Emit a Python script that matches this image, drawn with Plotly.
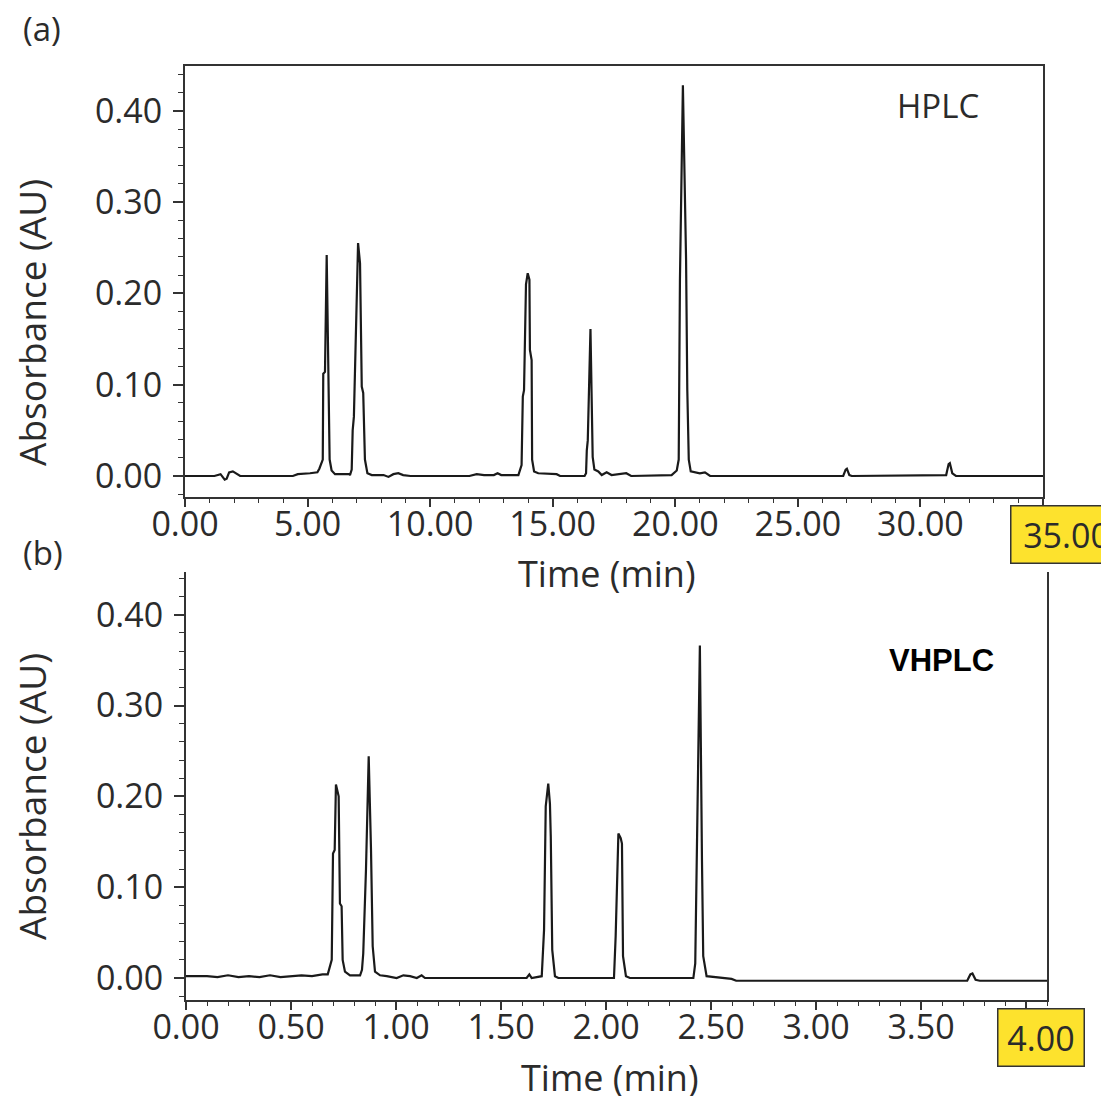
import plotly.graph_objects as go

# ---------------- data ----------------
# Panel (a) HPLC chromatogram: time (min) and absorbance (AU)
hplc_time = [0.00, 1.20, 1.45, 1.62, 1.70, 1.80, 1.95, 2.10, 2.25, 4.40, 4.60, 5.10, 5.40,
             5.48, 5.62, 5.64, 5.71, 5.78, 5.90, 5.98, 6.12, 6.70,
             6.73, 6.80, 6.84, 6.89, 6.98, 7.06, 7.14, 7.21, 7.27, 7.34, 7.44, 7.62,
             8.10, 8.30, 8.50, 8.70, 8.90, 9.20, 11.60, 11.90, 12.20, 12.60, 12.75, 12.90,
             13.60, 13.69, 13.73, 13.78, 13.83, 13.91, 13.98, 14.05, 14.07, 14.14, 14.16, 14.24,
             14.41, 15.16, 15.30,
             16.30, 16.36, 16.39, 16.43, 16.54, 16.63, 16.70, 16.86, 17.00, 17.20, 17.40,
             18.00, 18.20,
             19.85, 20.06, 20.14, 20.19, 20.31, 20.44, 20.49, 20.55, 20.63, 21.00, 21.21,
             21.42,
             26.85, 26.95, 27.00, 27.10, 27.20,
             31.05, 31.15, 31.20, 31.30, 31.45, 35.00]
hplc_abs = [0.000, 0.000, 0.002, -0.004, -0.003, 0.004, 0.005, 0.002, 0.000, 0.000, 0.002, 0.003, 0.004,
            0.008, 0.018, 0.112, 0.114, 0.242, 0.018, 0.006, 0.002, 0.002,
            0.001, 0.007, 0.050, 0.065, 0.178, 0.255, 0.233, 0.098, 0.091, 0.018, 0.003, 0.001,
            0.001, -0.001, 0.002, 0.003, 0.001, 0.000, 0.000, 0.002, 0.001, 0.001, 0.003, 0.001,
            0.001, 0.008, 0.012, 0.087, 0.094, 0.210, 0.222, 0.215, 0.138, 0.127, 0.018, 0.005,
            0.003, 0.002, 0.000,
            0.000, 0.003, 0.028, 0.039, 0.161, 0.021, 0.007, 0.005, 0.001, 0.004, 0.001,
            0.003, 0.000,
            0.001, 0.006, 0.018, 0.215, 0.428, 0.237, 0.094, 0.018, 0.005, 0.003, 0.004,
            0.000,
            0.000, 0.007, 0.008, 0.001, 0.000,
            0.001, 0.013, 0.014, 0.003, 0.000, 0.000]

# Panel (b) VHPLC chromatogram
vhplc_time = [0.00, 0.10, 0.15, 0.20, 0.25, 0.30, 0.35, 0.40, 0.45, 0.50, 0.55, 0.60, 0.65, 0.675,
              0.694, 0.700, 0.708, 0.714, 0.721, 0.727, 0.733, 0.741, 0.746, 0.757, 0.781, 0.829,
              0.838, 0.844, 0.857, 0.870, 0.881, 0.889, 0.900, 0.924,
              0.956, 1.003, 1.035, 1.067, 1.099, 1.122, 1.138,
              1.622, 1.635, 1.646,
              1.694, 1.705, 1.713, 1.725, 1.733, 1.737, 1.744, 1.757, 1.773,
              2.038, 2.046, 2.054, 2.059, 2.070, 2.076, 2.081, 2.095, 2.114,
              2.416, 2.425, 2.432, 2.447, 2.457, 2.463, 2.479, 2.543, 2.598, 2.620,
              3.720, 3.735, 3.745, 3.760, 3.780, 4.100]
vhplc_abs = [0.002, 0.002, 0.001, 0.003, 0.001, 0.002, 0.001, 0.003, 0.001, 0.002, 0.003, 0.002, 0.004, 0.004,
             0.020, 0.137, 0.141, 0.213, 0.207, 0.200, 0.082, 0.079, 0.020, 0.007, 0.003, 0.003,
             0.009, 0.027, 0.119, 0.244, 0.141, 0.035, 0.007, 0.003,
             0.002, 0.000, 0.003, 0.002, 0.000, 0.003, 0.000,
             0.000, 0.004, 0.000,
             0.002, 0.053, 0.189, 0.214, 0.192, 0.156, 0.031, 0.002, 0.000,
             0.000, 0.046, 0.126, 0.159, 0.154, 0.148, 0.024, 0.002, 0.000,
             0.000, 0.016, 0.126, 0.366, 0.130, 0.024, 0.002, 0.000, -0.001, -0.003,
             -0.003, 0.004, 0.005, -0.002, -0.003, -0.003]

y_tick_vals = [0.0, 0.1, 0.2, 0.3, 0.4]
y_tick_text = ["0.00", "0.10", "0.20", "0.30", "0.40"]
a_tick_vals = [0, 5, 10, 15, 20, 25, 30, 35]
a_tick_text = ["0.00", "5.00", "10.00", "15.00", "20.00", "25.00", "30.00", ""]
b_tick_vals = [0, 0.5, 1.0, 1.5, 2.0, 2.5, 3.0, 3.5, 4.0]
b_tick_text = ["0.00", "0.50", "1.00", "1.50", "2.00", "2.50", "3.00", "3.50", ""]

# ---------------- layout helpers ----------------
W, H = 1109, 1096
OFF = 8  # page body margin in the browser
def fx(p):
    return (p - OFF) / W
def fy(p):
    return 1 - (p - OFF) / H

FONT = "Open Sans"
TXT = "#2b2b2b"
AXC = "#333333"

fig = go.Figure()
fig.add_trace(go.Scatter(x=hplc_time, y=hplc_abs, mode="lines",
                         line=dict(color="#1a1a1a", width=2.2), xaxis="x", yaxis="y",
                         showlegend=False, hoverinfo="skip"))
fig.add_trace(go.Scatter(x=vhplc_time, y=vhplc_abs, mode="lines",
                         line=dict(color="#1a1a1a", width=2.2), xaxis="x2", yaxis="y2",
                         showlegend=False, hoverinfo="skip"))

common_y = dict(
    tickmode="array", tickvals=y_tick_vals, ticktext=y_tick_text, automargin=False,
    ticks="outside", ticklen=10, tickwidth=1.5, tickcolor=AXC, ticklabelstandoff=4,
    showline=True, linecolor=AXC, linewidth=2, mirror=True,
    showgrid=False, zeroline=False,
    tickfont=dict(family=FONT, size=34, color=TXT),
    minor=dict(dtick=0.02, tick0=0, ticks="outside", ticklen=5, tickwidth=1.2, tickcolor=AXC),
)
common_x = dict(
    tickmode="array", ticks="outside", ticklen=8, tickwidth=1.5, tickcolor=AXC,
    showline=True, linecolor=AXC, linewidth=2, automargin=False, ticklabelstandoff=-12,
    showgrid=False, zeroline=False,
    tickfont=dict(family=FONT, size=34, color=TXT),
)

fig.update_layout(
    width=W, height=H,
    margin=dict(l=0, r=0, t=0, b=0),
    paper_bgcolor="white", plot_bgcolor="white",
    xaxis=dict(common_x, domain=[fx(185), fx(1043)], range=[0, 35], anchor="y",
               tickvals=a_tick_vals, ticktext=a_tick_text, mirror=True,
               minor=dict(dtick=1, tick0=0, ticks="outside", ticklen=4, tickwidth=1.2, tickcolor=AXC)),
    yaxis=dict(common_y, domain=[fy(497), fy(66)], range=[-0.023, 0.449], anchor="x"),
    xaxis2=dict(common_x, domain=[fx(186), fx(1047)], range=[0, 4.1], anchor="y2",
                tickvals=b_tick_vals, ticktext=b_tick_text, mirror=False,
                minor=dict(dtick=0.1, tick0=0, ticks="outside", ticklen=4, tickwidth=1.2, tickcolor=AXC)),
    yaxis2=dict(common_y, domain=[fy(1000), fy(572)], range=[-0.0242, 0.447], anchor="x2"),
)

ann = []
def txt(x, y, s, size, xanchor="center", yanchor="middle", angle=0, family=FONT, color=TXT):
    ann.append(dict(x=fx(x), y=fy(y), xref="paper", yref="paper", text=s, showarrow=False,
                    xanchor=xanchor, yanchor=yanchor, textangle=angle,
                    font=dict(family=family, size=size, color=color)))

txt(21, 29, "(a)", 33, xanchor="left")
txt(21, 552, "(b)", 33, xanchor="left")
txt(607, 573, "Time (min)", 36)
txt(610, 1077, "Time (min)", 36)
txt(31, 323, "Absorbance (AU)", 37, angle=-90)
txt(31, 797, "Absorbance (AU)", 37, angle=-90)
txt(895, 105, "HPLC", 33, xanchor="left")
txt(887, 660, "<b>VHPLC</b>", 31, xanchor="left", family="Liberation Sans", color="#000000")

# yellow value boxes
ann.append(dict(x=fx(1010), y=fy(505), xref="paper", yref="paper", text="35.00", showarrow=False,
                xanchor="left", yanchor="top", width=110, height=56, borderpad=0,
                bgcolor="#FDE22D", bordercolor="#333333", borderwidth=1.5,
                font=dict(family=FONT, size=34, color=TXT)))
ann.append(dict(x=fx(997), y=fy(1008), xref="paper", yref="paper", text="4.00", showarrow=False,
                xanchor="left", yanchor="top", width=85, height=56, borderpad=0,
                bgcolor="#FDE22D", bordercolor="#333333", borderwidth=1.5,
                font=dict(family=FONT, size=34, color=TXT)))

fig.update_layout(annotations=ann)
fig.write_html("out.html")
